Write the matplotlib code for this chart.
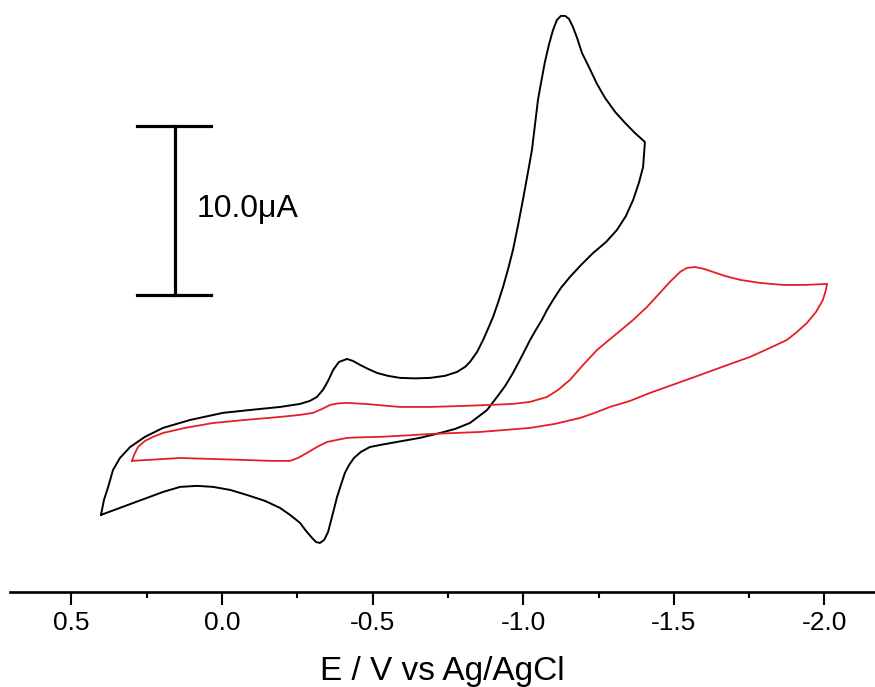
import numpy as np
import matplotlib.pyplot as plt
from matplotlib.ticker import FixedLocator, FixedFormatter

plt.rcParams['font.family'] = ['Liberation Sans', 'DejaVu Sans']

# cyclic voltammograms, potential in V vs Ag/AgCl, current in uA (cathodic up)
black_E = [0.402, 0.392, 0.378, 0.362, 0.339, 0.305, 0.256, 0.196, 0.106, -0.003,
           -0.093, -0.193, -0.259, -0.292, -0.315, -0.335, -0.352, -0.369, -0.388, -0.415,
           -0.435, -0.458, -0.485, -0.515, -0.551, -0.591, -0.641, -0.691, -0.740, -0.780,
           -0.807, -0.823, -0.847, -0.867, -0.883, -0.900, -0.916, -0.933, -0.950, -0.966,
           -0.983, -0.999, -1.016, -1.029, -1.039, -1.049, -1.059, -1.072, -1.086, -1.099,
           -1.112, -1.125, -1.139, -1.152, -1.165, -1.179, -1.195, -1.218, -1.245, -1.272,
           -1.305, -1.338, -1.371, -1.404, -1.401, -1.398, -1.384, -1.365, -1.341, -1.311,
           -1.275, -1.232, -1.192, -1.155, -1.125, -1.099, -1.079, -1.062, -1.042, -1.023,
           -0.996, -0.966, -0.940, -0.913, -0.880, -0.850, -0.823, -0.774, -0.724, -0.657,
           -0.581, -0.525, -0.491, -0.461, -0.438, -0.422, -0.408, -0.398, -0.382, -0.365,
           -0.352, -0.339, -0.325, -0.312, -0.302, -0.279, -0.259, -0.226, -0.193, -0.143,
           -0.083, -0.027, 0.030, 0.083, 0.139, 0.196, 0.249, 0.322, 0.402]
black_I = [-5.03, -4.14, -3.37, -2.37, -1.66, -1.01, -0.41, 0.12, 0.59, 1.01,
           1.18, 1.36, 1.54, 1.72, 1.95, 2.37, 2.90, 3.55, 4.02, 4.20,
           4.08, 3.85, 3.61, 3.37, 3.20, 3.08, 3.05, 3.08, 3.20, 3.43,
           3.73, 4.02, 4.62, 5.33, 5.98, 6.69, 7.51, 8.46, 9.53, 10.65,
           12.13, 13.61, 15.27, 16.57, 18.05, 19.53, 20.53, 21.77, 22.84, 23.67,
           24.26, 24.50, 24.50, 24.32, 23.85, 23.19, 22.31, 21.48, 20.47, 19.64,
           18.82, 18.17, 17.57, 17.04, 16.27, 15.56, 14.62, 13.61, 12.66, 11.83,
           11.12, 10.47, 9.76, 9.05, 8.40, 7.69, 7.10, 6.51, 5.92, 5.33,
           4.38, 3.37, 2.60, 1.95, 1.18, 0.77, 0.41, 0.06, -0.18, -0.47,
           -0.71, -0.89, -1.01, -1.30, -1.66, -2.07, -2.54, -3.08, -3.96, -5.15,
           -6.04, -6.51, -6.69, -6.63, -6.45, -5.98, -5.50, -5.03, -4.62, -4.20,
           -3.85, -3.55, -3.37, -3.31, -3.37, -3.67, -4.02, -4.50, -5.03]

red_E = [0.299, 0.292, 0.279, 0.256, 0.229, 0.196, 0.123, 0.030, -0.076, -0.193,
         -0.259, -0.302, -0.332, -0.359, -0.385, -0.415, -0.475, -0.591, -0.691, -0.800,
         -0.890, -0.966, -1.023, -1.079, -1.116, -1.155, -1.199, -1.245, -1.305, -1.365,
         -1.411, -1.454, -1.487, -1.521, -1.544, -1.570, -1.600, -1.630, -1.670, -1.720,
         -1.786, -1.863, -1.936, -2.009, -2.005, -1.995, -1.972, -1.942, -1.909, -1.876,
         -1.819, -1.753, -1.670, -1.587, -1.504, -1.421, -1.355, -1.288, -1.238, -1.189,
         -1.106, -1.023, -0.940, -0.857, -0.774, -0.691, -0.608, -0.525, -0.458, -0.415,
         -0.382, -0.349, -0.315, -0.282, -0.252, -0.226, -0.159, -0.083, 0.030, 0.139,
         0.222, 0.299]
red_I = [-1.83, -1.48, -1.01, -0.65, -0.41, -0.18, 0.12, 0.41, 0.59, 0.77,
         0.89, 1.01, 1.24, 1.48, 1.57, 1.60, 1.54, 1.36, 1.36, 1.42,
         1.48, 1.54, 1.66, 1.95, 2.37, 2.96, 3.85, 4.73, 5.62, 6.51,
         7.28, 8.11, 8.76, 9.35, 9.59, 9.64, 9.53, 9.35, 9.11, 8.88,
         8.70, 8.58, 8.58, 8.64, 8.28, 7.69, 6.98, 6.33, 5.80, 5.33,
         4.85, 4.32, 3.79, 3.25, 2.72, 2.19, 1.72, 1.36, 1.01, 0.71,
         0.36, 0.12, 0.00, -0.12, -0.18, -0.24, -0.33, -0.41, -0.44, -0.47,
         -0.59, -0.71, -1.01, -1.36, -1.66, -1.83, -1.83, -1.78, -1.72, -1.66,
         -1.75, -1.83]

tick_values = [0.5, 0.0, -0.5, -1.0, -1.5, -2.0]
tick_labels = ['0.5', '0.0', '-0.5', '-1.0', '-1.5', '-2.0']
minor_values = [0.25, -0.25, -0.75, -1.25, -1.75]

scale_bar_uA = 10.0
scale_bar_E = 0.156
scale_bar_base = 8.0

fig = plt.figure(figsize=(8.75, 6.87), dpi=100)
ax = fig.add_axes([10 / 875, 95 / 687, 865 / 875, 592 / 687])

ax.plot(black_E, black_I, color='black', lw=1.4,
        solid_joinstyle='round', solid_capstyle='round')
ax.plot(red_E, red_I, color='#e41e26', lw=1.3,
        solid_joinstyle='round', solid_capstyle='round')

# current scale bar
bar_top = scale_bar_base + scale_bar_uA
ax.plot([scale_bar_E, scale_bar_E], [scale_bar_base, bar_top], color='black', lw=2.3)
for y in (scale_bar_base, bar_top):
    ax.plot([scale_bar_E + 0.126, scale_bar_E - 0.12], [y, y], color='black', lw=2.3)
ax.text(0.083, scale_bar_base + scale_bar_uA / 2 + 0.1, f'{scale_bar_uA:.1f}μA',
        fontsize=23, ha='left', va='center')

ax.set_xlim(0.704, -2.168)
ax.set_ylim(-9.59, 25.44)

for side in ('left', 'right', 'top'):
    ax.spines[side].set_visible(False)
ax.spines['bottom'].set_linewidth(1.9)
ax.set_yticks([])

ax.xaxis.set_major_locator(FixedLocator(tick_values))
ax.xaxis.set_major_formatter(FixedFormatter(tick_labels))
ax.xaxis.set_minor_locator(FixedLocator(minor_values))
ax.tick_params(axis='x', which='major', direction='out', length=9, width=1.5,
               labelsize=19, pad=5)
ax.tick_params(axis='x', which='minor', direction='out', length=4.5, width=1.5)

ax.set_xlabel('E / V vs Ag/AgCl', fontsize=24, labelpad=15)

fig.savefig('out.png', dpi=100)
